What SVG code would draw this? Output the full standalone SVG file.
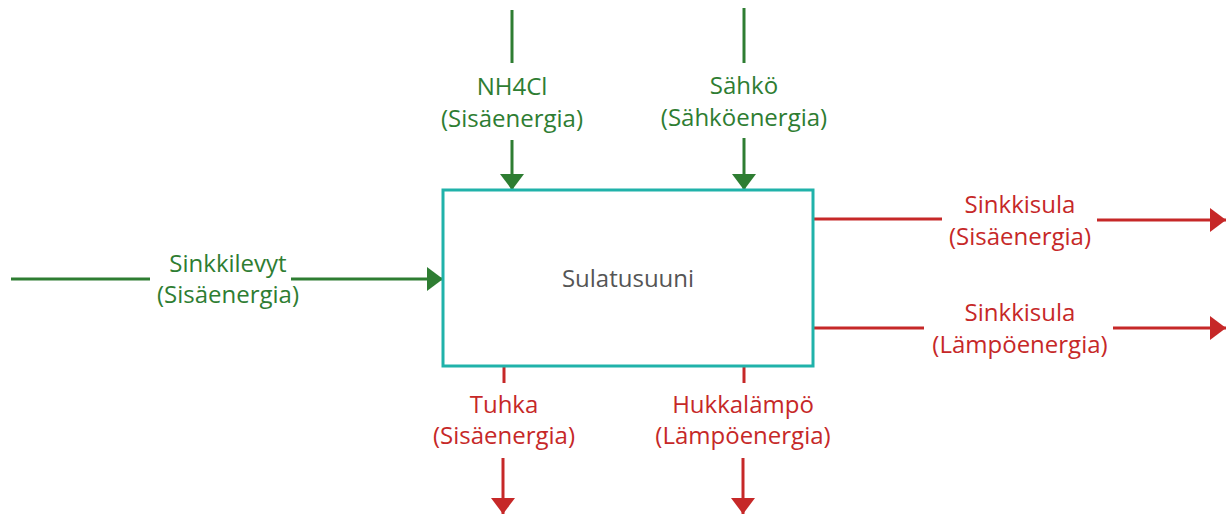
<svg xmlns="http://www.w3.org/2000/svg" width="1228" height="514" viewBox="0 0 1228 514">
<style>
.g{stroke:#2e7d32;stroke-width:3;fill:none}
.r{stroke:#c62828;stroke-width:3;fill:none}
.tg{fill:#2e7d32;font-family:"Open Sans",sans-serif;font-size:24px;text-anchor:middle}
.tr{fill:#c62828;font-family:"Open Sans",sans-serif;font-size:24px;text-anchor:middle}
.box{fill:#ffffff;stroke:#20b2aa;stroke-width:3}
.lbl{fill:#555555;font-family:"Open Sans",sans-serif;font-size:24px;text-anchor:middle}
</style>
<defs>
<marker id="ag" markerUnits="userSpaceOnUse" markerWidth="24" markerHeight="24" viewBox="0 0 16 24" refX="16" refY="12" orient="auto"><path d="M0,0 L16,12 L0,24 Z" fill="#2e7d32"/></marker>
<marker id="ar" markerUnits="userSpaceOnUse" markerWidth="24" markerHeight="24" viewBox="0 0 16 24" refX="16" refY="12" orient="auto"><path d="M0,0 L16,12 L0,24 Z" fill="#c62828"/></marker>
</defs>
<rect width="1228" height="514" fill="#ffffff"/>
<g id="connectors">
<line class="g" x1="512" y1="10" x2="512" y2="63"/>
<line class="g" x1="512" y1="140" x2="512" y2="190" marker-end="url(#ag)"/>
<line class="g" x1="744" y1="8" x2="744" y2="63"/>
<line class="g" x1="744" y1="138" x2="744" y2="190" marker-end="url(#ag)"/>
<line class="g" x1="11" y1="279" x2="150" y2="279"/>
<line class="g" x1="291" y1="279" x2="443" y2="279" marker-end="url(#ag)"/>
<line class="r" x1="813" y1="219" x2="942" y2="219"/>
<line class="r" x1="1097" y1="220" x2="1226" y2="220" marker-end="url(#ar)"/>
<line class="r" x1="813" y1="328" x2="924" y2="328"/>
<line class="r" x1="1113" y1="328" x2="1226" y2="328" marker-end="url(#ar)"/>
<line class="r" x1="504" y1="366" x2="504" y2="383"/>
<line class="r" x1="503" y1="458" x2="503" y2="514" marker-end="url(#ar)"/>
<line class="r" x1="744" y1="366" x2="744" y2="383"/>
<line class="r" x1="743" y1="458" x2="743" y2="514" marker-end="url(#ar)"/>
</g>
<g id="labels">
<text class="tg" x="512" y="95">NH4Cl</text>
<text class="tg" x="512" y="127">(Sisäenergia)</text>
<text class="tg" x="744" y="94">Sähkö</text>
<text class="tg" x="744" y="126">(Sähköenergia)</text>
<text class="tg" x="228" y="272">Sinkkilevyt</text>
<text class="tg" x="228" y="303">(Sisäenergia)</text>
<text class="tr" x="1020" y="213">Sinkkisula</text>
<text class="tr" x="1020" y="245">(Sisäenergia)</text>
<text class="tr" x="1020" y="321">Sinkkisula</text>
<text class="tr" x="1020" y="353">(Lämpöenergia)</text>
<text class="tr" x="504" y="413">Tuhka</text>
<text class="tr" x="504" y="444">(Sisäenergia)</text>
<text class="tr" x="743" y="413">Hukkalämpö</text>
<text class="tr" x="743" y="444">(Lämpöenergia)</text>
</g>
<g id="node-sulatusuuni">
<rect class="box" x="443" y="190" width="370" height="176"/>
<text class="lbl" x="628" y="287">Sulatusuuni</text>
</g>
</svg>
